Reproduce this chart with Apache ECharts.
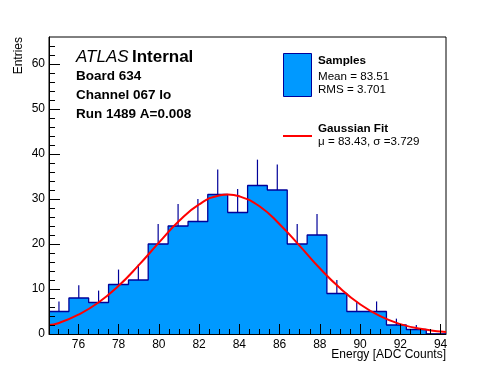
<!DOCTYPE html>
<html>
<head>
<meta charset="utf-8">
<script src="https://cdn.jsdelivr.net/npm/echarts@6/dist/echarts.min.js"></script>
<style>
html,body{margin:0;padding:0;background:#fff;}
#c{width:496px;height:372px;}
</style>
</head>
<body>
<div id="c"></div>
<script>
// ---- data ----
const binLow  = [74.54, 75.53, 76.51, 77.50, 78.49, 79.47, 80.46, 81.45, 82.43, 83.42,
                 84.41, 85.39, 86.38, 87.37, 88.35, 89.34, 90.33, 91.31, 92.30, 93.29];
const binHigh = [75.53, 76.51, 77.50, 78.49, 79.47, 80.46, 81.45, 82.43, 83.42, 84.41,
                 85.39, 86.38, 87.37, 88.35, 89.34, 90.33, 91.31, 92.30, 93.29, 94.27];
const counts  = [5, 8, 7, 11, 12, 20, 24, 25, 31, 27,
                 33, 32, 20, 22, 9, 5, 5, 2, 1, 0];
// Gaussian fit curve
const fitX = [74.54, 75, 76, 77, 78, 79, 80, 81, 82, 83, 83.43, 84, 85, 86, 87, 88, 89, 90, 91, 92, 93, 94, 94.27];
const fitY = [2.0, 2.4, 4.3, 7.0, 10.7, 15.3, 20.3, 25.1, 28.8, 30.8, 31.0, 30.6, 28.4, 24.4, 19.6, 14.6, 10.2, 6.6, 3.95, 2.2, 1.15, 0.56, 0.45];
// axis ticks
const xTickLabels = [76, 78, 80, 82, 84, 86, 88, 90, 92, 94];
const xMinorTicks = [75, 75.5, 76.5, 77, 77.5, 78.5, 79, 79.5, 80.5, 81, 81.5, 82.5, 83, 83.5,
                     84.5, 85, 85.5, 86.5, 87, 87.5, 88.5, 89, 89.5, 90.5, 91, 91.5, 92.5, 93, 93.5];
const yTickLabels = [0, 10, 20, 30, 40, 50, 60];
const yMinorTicks = [2, 4, 6, 8, 12, 14, 16, 18, 22, 24, 26, 28, 32, 34, 36, 38,
                     42, 44, 46, 48, 52, 54, 56, 58, 62, 64];
const xRange = [74.54, 94.27];
const yRange = [0, 66];

// ---- build ----
const FONT = '"Liberation Sans", Arial, Helvetica, sans-serif';
const FILL = '#0099ff';
const LINE = '#000099';

const errData = binLow.map((lo, i) => [(lo + binHigh[i]) / 2, counts[i], Math.sqrt(counts[i])]);
const stepData = binLow.map((lo, i) => [lo, counts[i]]).concat([[binHigh[binHigh.length - 1], 0]]);
const fitData = fitX.map((x, i) => [x, fitY[i]]);

const chart = echarts.init(document.getElementById('c'), null, {renderer: 'canvas'});

const axisCommon = {
  type: 'value',
  splitLine: {show: false},
  axisLine: {show: true, lineStyle: {color: '#000', width: 1}},
};

chart.setOption({
  animation: false,
  backgroundColor: '#fff',
  grid: {left: 49, top: 37, width: 397, height: 297, show: true, borderColor: '#000', borderWidth: 1, backgroundColor: 'transparent'},
  xAxis: [
    Object.assign({}, axisCommon, {
      min: xRange[0], max: xRange[1], position: 'bottom', z: 10,
      axisTick: {show: true, inside: true, length: 10, customValues: xTickLabels, lineStyle: {color: '#000'}},
      axisLabel: {customValues: xTickLabels, color: '#000', fontFamily: FONT, fontSize: 12, margin: 5},
    }),
    Object.assign({}, axisCommon, {
      min: xRange[0], max: xRange[1], position: 'bottom', z: 10,
      axisLine: {show: false},
      axisTick: {show: true, inside: true, length: 5, customValues: xMinorTicks, lineStyle: {color: '#000'}},
      axisLabel: {show: false},
    })
  ],
  yAxis: [
    Object.assign({}, axisCommon, {
      min: yRange[0], max: yRange[1], position: 'left', z: 10,
      axisTick: {show: true, inside: true, length: 11, customValues: yTickLabels, lineStyle: {color: '#000'}},
      axisLabel: {customValues: yTickLabels, color: '#000', fontFamily: FONT, fontSize: 12, margin: 4},
    }),
    Object.assign({}, axisCommon, {
      min: yRange[0], max: yRange[1], position: 'left', z: 10,
      axisLine: {show: false},
      axisTick: {show: true, inside: true, length: 6, customValues: yMinorTicks, lineStyle: {color: '#000'}},
      axisLabel: {show: false},
    })
  ],
  series: [
    {
      type: 'line', name: 'Samples', xAxisIndex: 0, yAxisIndex: 0, z: 2,
      data: stepData, step: 'end', symbol: 'none',
      lineStyle: {color: LINE, width: 1.3},
      areaStyle: {color: FILL, opacity: 1}
    },
    {
      type: 'custom', name: 'errors', xAxisIndex: 0, yAxisIndex: 0, z: 3,
      data: errData,
      encode: {x: 0, y: 1},
      renderItem: function (params, api) {
        const n = api.value(1);
        if (n <= 0) return null;
        const a = api.coord([api.value(0), n]);
        const b = api.coord([api.value(0), n + api.value(2)]);
        return {type: 'line', shape: {x1: a[0], y1: a[1], x2: b[0], y2: b[1]},
                style: {stroke: LINE, lineWidth: 1.2}};
      }
    },
    {
      type: 'line', name: 'Gaussian Fit', xAxisIndex: 0, yAxisIndex: 0, z: 4,
      data: fitData, smooth: true, symbol: 'none',
      lineStyle: {color: '#ff0000', width: 2}
    }
  ],
  graphic: [
    {type: 'text', x: 19, y: 37, rotation: Math.PI / 2,
     style: {text: 'Entries', font: '12px ' + FONT, fill: '#000', textAlign: 'right', textVerticalAlign: 'middle'}},
    {type: 'text', x: 446, y: 355,
     style: {text: 'Energy [ADC Counts]', font: '12px ' + FONT, fill: '#000', textAlign: 'right', textVerticalAlign: 'middle'}},
    {type: 'text', x: 76, y: 57,
     style: {text: '{a|ATLAS} {b|Internal}', textVerticalAlign: 'middle', fill: '#000',
             rich: {a: {fontStyle: 'italic', fontSize: 17, fontFamily: FONT, fill: '#000'},
                    b: {fontWeight: 'bold', fontSize: 17, fontFamily: FONT, fill: '#000'}}}},
    {type: 'text', x: 76, y: 76,
     style: {text: 'Board 634', font: 'bold 13.5px ' + FONT, fill: '#000', textVerticalAlign: 'middle'}},
    {type: 'text', x: 76, y: 95,
     style: {text: 'Channel 067 lo', font: 'bold 13.5px ' + FONT, fill: '#000', textVerticalAlign: 'middle'}},
    {type: 'text', x: 76, y: 114,
     style: {text: 'Run 1489 A=0.008', font: 'bold 13.5px ' + FONT, fill: '#000', textVerticalAlign: 'middle'}},
    {type: 'rect', shape: {x: 283.5, y: 53.5, width: 28, height: 43},
     style: {fill: FILL, stroke: LINE, lineWidth: 1}},
    {type: 'text', x: 318, y: 61,
     style: {text: 'Samples', font: 'bold 11.7px ' + FONT, fill: '#000', textVerticalAlign: 'middle'}},
    {type: 'text', x: 318, y: 77,
     style: {text: 'Mean = 83.51', font: '11.6px ' + FONT, fill: '#000', textVerticalAlign: 'middle'}},
    {type: 'text', x: 318, y: 90,
     style: {text: 'RMS = 3.701', font: '11.6px ' + FONT, fill: '#000', textVerticalAlign: 'middle'}},
    {type: 'line', shape: {x1: 283, y1: 136, x2: 312, y2: 136},
     style: {stroke: '#ff0000', lineWidth: 2}},
    {type: 'text', x: 318, y: 129,
     style: {text: 'Gaussian Fit', font: 'bold 11.7px ' + FONT, fill: '#000', textVerticalAlign: 'middle'}},
    {type: 'text', x: 318, y: 142,
     style: {text: 'μ = 83.43, σ =3.729', font: '11.6px ' + FONT, fill: '#000', textVerticalAlign: 'middle'}}
  ]
});
</script>
</body>
</html>
